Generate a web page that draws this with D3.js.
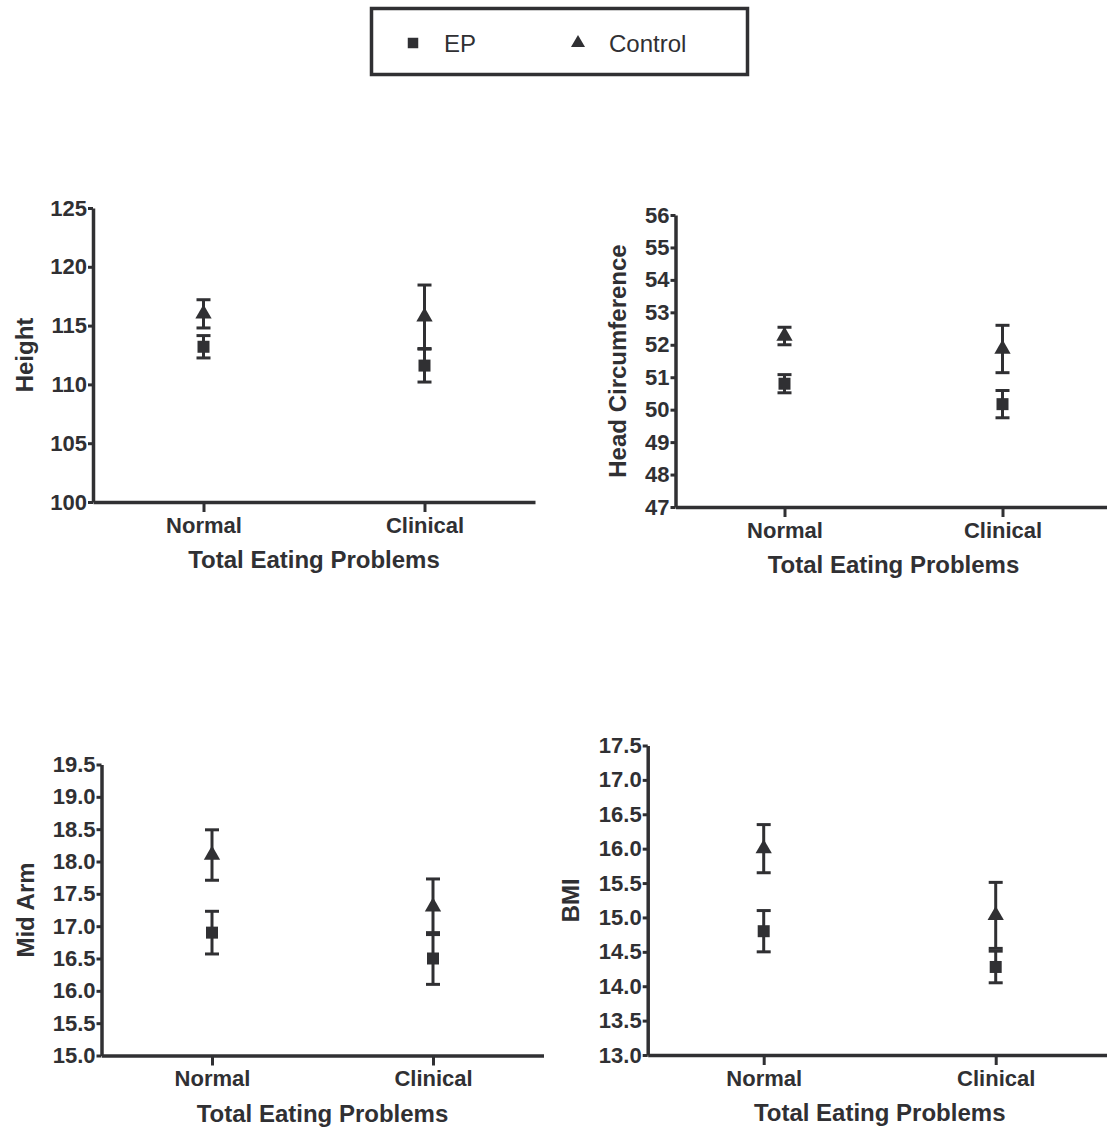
<!DOCTYPE html>
<html>
<head>
<meta charset="utf-8">
<script src="https://cdn.jsdelivr.net/npm/d3@7"></script>
<style>
  body { margin: 0; background: #fff; }
  svg { display: block; font-family: "Liberation Sans", Arial, sans-serif; }
</style>
</head>
<body>
<div id="chart"></div>
<script>
// categories and series
var groups = ["Normal", "Clinical"];
var seriesNames = ["EP", "Control"];
var xTitle = "Total Eating Problems";

// means and error (SEM) per group
var heightEP = [113.2, 111.6];
var heightEPErr = [0.95, 1.4];
var heightControl = [116.0, 115.75];
var heightControlErr = [1.2, 2.7];

var headEP = [50.8, 50.17];
var headEPErr = [0.28, 0.42];
var headControl = [52.27, 51.87];
var headControlErr = [0.27, 0.73];

var armEP = [16.9, 16.5];
var armEPErr = [0.33, 0.4];
var armControl = [18.1, 17.3];
var armControlErr = [0.39, 0.43];

var bmiEP = [14.8, 14.28];
var bmiEPErr = [0.3, 0.23];
var bmiControl = [16.0, 15.03];
var bmiControlErr = [0.35, 0.48];

// tick labels
var heightTicks = [100, 105, 110, 115, 120, 125];
var headTicks = [47, 48, 49, 50, 51, 52, 53, 54, 55, 56];
var armTicks = [15.0, 15.5, 16.0, 16.5, 17.0, 17.5, 18.0, 18.5, 19.0, 19.5];
var bmiTicks = [13.0, 13.5, 14.0, 14.5, 15.0, 15.5, 16.0, 16.5, 17.0, 17.5];

var ink = "#303033";

var svg = d3.select("#chart").append("svg")
    .attr("width", 1107)
    .attr("height", 1134);

// panel layout (positions only)
var panels = [
    { title: "Height", ep: heightEP, epErr: heightEPErr, ctl: heightControl, ctlErr: heightControlErr,
      ticks: heightTicks, fmt: d3.format("d"), left: 93, unit: 110.5, top: 208, bottom: 502, titleX: 33 },
    { title: "Head Circumference", ep: headEP, epErr: headEPErr, ctl: headControl, ctlErr: headControlErr,
      ticks: headTicks, fmt: d3.format("d"), left: 675.5, unit: 109, top: 215, bottom: 507, titleX: 626 },
    { title: "Mid Arm", ep: armEP, epErr: armEPErr, ctl: armControl, ctlErr: armControlErr,
      ticks: armTicks, fmt: d3.format(".1f"), left: 101.5, unit: 110.5, top: 764.5, bottom: 1055.5, titleX: 34 },
    { title: "BMI", ep: bmiEP, epErr: bmiEPErr, ctl: bmiControl, ctlErr: bmiControlErr,
      ticks: bmiTicks, fmt: d3.format(".1f"), left: 647.7, unit: 116, top: 745.5, bottom: 1055, titleX: 579 }
];

var square = d3.symbol().type(d3.symbolSquare).size(144);
var triangle = d3.symbol().type(d3.symbolTriangle).size(115);

panels.forEach(function (p) {
    var g = svg.append("g");

    var x = d3.scaleLinear()
        .domain([0, 4])
        .range([p.left, p.left + 4 * p.unit]);
    var y = d3.scaleLinear()
        .domain(d3.extent(p.ticks))
        .range([p.bottom, p.top]);
    // category i sits at 1 + 2i
    var gx = function (i) { return x(1 + 2 * i); };

    // y axis
    var yAxis = g.append("g")
        .attr("transform", "translate(" + p.left + ",0)")
        .call(d3.axisLeft(y).tickValues(p.ticks).tickFormat(p.fmt).tickSize(5).tickSizeOuter(0).tickPadding(1));

    // x axis
    var xAxis = g.append("g")
        .attr("transform", "translate(0," + p.bottom + ")")
        .call(d3.axisBottom(x).tickValues([1, 3]).tickFormat(function (d) { return groups[(d - 1) / 2]; })
            .tickSize(10).tickSizeOuter(0).tickPadding(5));

    [yAxis, xAxis].forEach(function (a) {
        a.select(".domain").attr("stroke", ink).attr("stroke-width", 3.5);
        a.selectAll(".tick line").attr("stroke", ink).attr("stroke-width", 3);
        a.selectAll("text").attr("fill", ink).attr("font-weight", "bold");
    });
    yAxis.selectAll("text").attr("font-size", 22);
    xAxis.selectAll("text").attr("font-size", 22);

    // axis titles
    g.append("text")
        .attr("transform", "translate(" + p.titleX + "," + (p.top + p.bottom) / 2 + ") rotate(-90)")
        .attr("text-anchor", "middle")
        .attr("font-size", 24)
        .attr("font-weight", "bold")
        .attr("fill", ink)
        .text(p.title);

    g.append("text")
        .attr("x", (x.range()[0] + x.range()[1]) / 2)
        .attr("y", p.bottom + 66)
        .attr("text-anchor", "middle")
        .attr("font-size", 24)
        .attr("font-weight", "bold")
        .attr("fill", ink)
        .text(xTitle);

    // error bars + markers
    var sets = [
        { mean: p.ep, err: p.epErr, sym: square },
        { mean: p.ctl, err: p.ctlErr, sym: triangle }
    ];
    sets.forEach(function (s) {
        s.mean.forEach(function (m, i) {
            var cx = gx(i);
            var hi = y(m + s.err[i]), lo = y(m - s.err[i]);
            g.append("line")
                .attr("x1", cx).attr("x2", cx)
                .attr("y1", hi).attr("y2", lo)
                .attr("stroke", ink).attr("stroke-width", 3);
            [hi, lo].forEach(function (cy) {
                g.append("line")
                    .attr("x1", cx - 7).attr("x2", cx + 7)
                    .attr("y1", cy).attr("y2", cy)
                    .attr("stroke", ink).attr("stroke-width", 3);
            });
            g.append("path")
                .attr("d", s.sym())
                .attr("transform", "translate(" + cx + "," + y(m) + ")")
                .attr("fill", ink);
        });
    });
});

// legend
var legend = svg.append("g");
legend.append("rect")
    .attr("x", 371.5).attr("y", 8.5)
    .attr("width", 376).attr("height", 66)
    .attr("fill", "none")
    .attr("stroke", ink)
    .attr("stroke-width", 3.5);

var legendSyms = [d3.symbol().type(d3.symbolSquare).size(110), d3.symbol().type(d3.symbolTriangle).size(85)];
var legendX = [413, 578];
seriesNames.forEach(function (name, i) {
    legend.append("path")
        .attr("d", legendSyms[i]())
        .attr("transform", "translate(" + legendX[i] + "," + 43 + ")")
        .attr("fill", ink);
    legend.append("text")
        .attr("x", legendX[i] + 31)
        .attr("y", 52)
        .attr("font-size", 24)
        .attr("fill", ink)
        .text(name);
});
</script>
</body>
</html>
